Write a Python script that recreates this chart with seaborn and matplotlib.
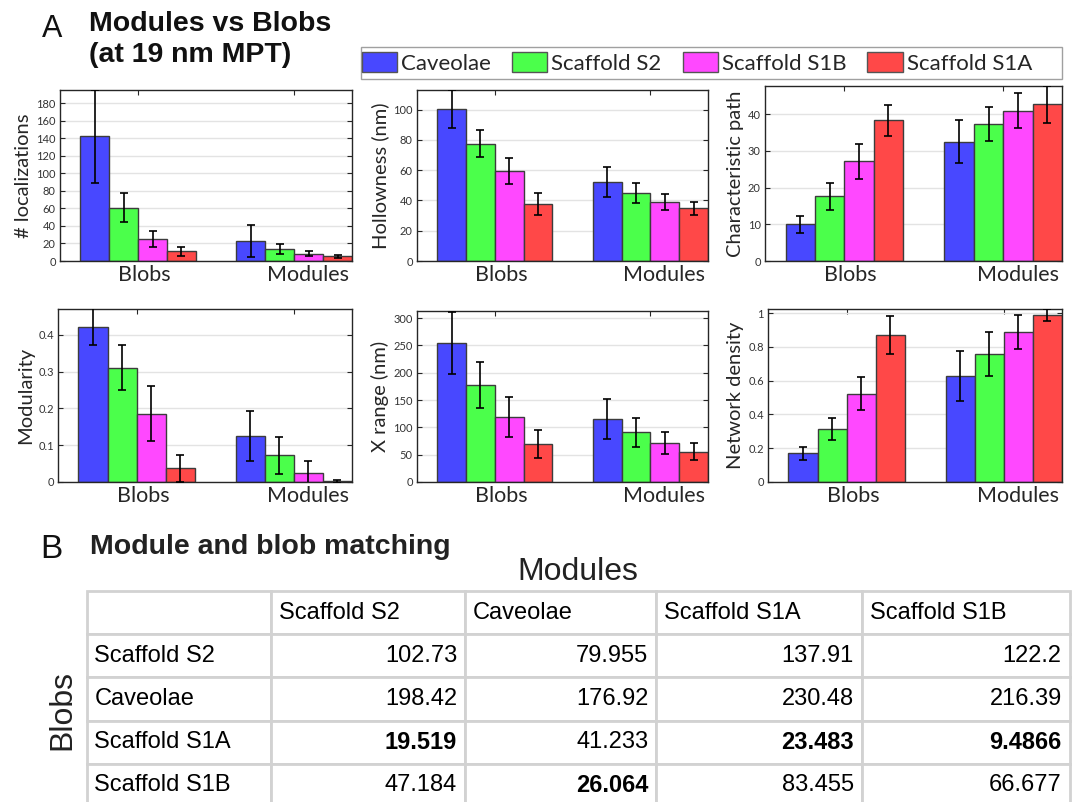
import numpy as np
import pandas as pd
import seaborn as sns
import matplotlib
matplotlib.use("Agg")
import matplotlib.pyplot as plt
import matplotlib.patches as mpatches
from matplotlib.container import BarContainer

sns.set_theme(style="white")
plt.rcParams["font.family"] = ["Lato", "DejaVu Sans"]

# ---------------------------------------------------------------- data
groups = ["Blobs", "Modules"]
proteins = ["Caveolae", "Scaffold S2", "Scaffold S1B", "Scaffold S1A"]
colors = ["#4848FF", "#4BFF4B", "#FF48FF", "#FF4848"]

loc_blobs = [142, 61, 25, 11]
loc_blobs_err = [53, 17, 9, 5.5]
loc_modules = [22.5, 13.5, 8.5, 5.5]
loc_modules_err = [18, 6, 3, 1.7]

hol_blobs = [100.5, 77.5, 59.5, 37.5]
hol_blobs_err = [12.5, 9, 8.5, 7.2]
hol_modules = [52, 45, 39, 35]
hol_modules_err = [10, 6.7, 5.3, 4.3]

cp_blobs = [10, 17.6, 27.2, 38.3]
cp_blobs_err = [2.3, 3.6, 4.8, 4.3]
cp_modules = [32.5, 37.3, 41, 42.7]
cp_modules_err = [5.9, 4.7, 4.7, 5.1]

mod_blobs = [0.422, 0.31, 0.186, 0.037]
mod_blobs_err = [0.051, 0.061, 0.074, 0.036]
mod_modules = [0.125, 0.073, 0.025, 0.002]
mod_modules_err = [0.069, 0.05, 0.032, 0.004]

xr_blobs = [254, 178, 119, 69]
xr_blobs_err = [57, 42, 37.5, 25.5]
xr_modules = [115, 91, 71, 55]
xr_modules_err = [37, 26.5, 20.5, 15.5]

nd_blobs = [0.17, 0.312, 0.522, 0.87]
nd_blobs_err = [0.04, 0.065, 0.098, 0.11]
nd_modules = [0.627, 0.757, 0.887, 0.987]
nd_modules_err = [0.146, 0.128, 0.102, 0.035]

# matching table: rows = blobs, columns = modules
table_rows = ["Scaffold S2", "Caveolae", "Scaffold S1A", "Scaffold S1B"]
table_cols = ["Scaffold S2", "Caveolae", "Scaffold S1A", "Scaffold S1B"]
match_s2 = [102.73, 198.42, 19.519, 47.184]
match_cav = [79.955, 176.92, 41.233, 26.064]
match_s1a = [137.91, 230.48, 23.483, 83.455]
match_s1b = [122.2, 216.39, 9.4866, 66.677]

# ---------------------------------------------------------------- figure
W, H = 1073, 802
fig = plt.figure(figsize=(W / 100, H / 100), dpi=100)


def px_axes(left, top, right, bottom):
    return fig.add_axes([left / W, 1 - bottom / H, (right - left) / W, (bottom - top) / H])


def panel(ax, blobs, blobs_err, modules, modules_err, ylabel, ylim, yticks, yticklabels):
    df = pd.DataFrame({
        "group": ["Blobs"] * 4 + ["Modules"] * 4,
        "protein": proteins * 2,
        "value": list(blobs) + list(modules),
    })
    sns.barplot(data=df, x="group", y="value", hue="protein", order=groups,
                hue_order=proteins, palette=colors, saturation=1, width=0.74,
                errorbar=None, edgecolor="#3c3c3c", linewidth=1.0, legend=False,
                ax=ax, zorder=2)
    bar_sets = [c for c in ax.containers if isinstance(c, BarContainer)]
    for i, cont in enumerate(bar_sets):
        xs = [p.get_x() + p.get_width() / 2 for p in cont.patches]
        ys = [p.get_height() for p in cont.patches]
        errs = [blobs_err[i], modules_err[i]]
        ax.errorbar(xs, ys, yerr=errs, fmt="none", ecolor="black",
                    elinewidth=1.2, capsize=2.6, capthick=1.2, zorder=3)
    ax.set_xlim(-0.5, 1.37)
    ax.set_ylim(*ylim)
    ax.set_yticks(yticks)
    ax.set_yticklabels(yticklabels, fontsize=8, color="#333333")
    # group labels sit a little right of the group centres; the tick marks
    # (top edge) stay on the centres as minor ticks
    ax.set_xticks([0.04, 1.09])
    ax.set_xticklabels(groups, fontsize=15.5, color="#262626")
    ax.set_xticks([0, 1], minor=True)
    ax.set_xlabel("")
    ax.set_ylabel(ylabel, fontsize=14.5, color="#262626", labelpad=3)
    ax.yaxis.grid(True, color="#e3e3e3", lw=1)
    ax.set_axisbelow(True)
    ax.tick_params(axis="y", direction="in", left=True, right=True,
                   length=3.5, width=0.8, color="#262626", pad=3)
    ax.tick_params(axis="x", which="major", length=0, pad=3)
    ax.tick_params(axis="x", which="minor", direction="in", bottom=True, top=True,
                   length=3.5, width=0.8, color="#262626")
    for s in ax.spines.values():
        s.set_color("#262626")
        s.set_linewidth(1.0)


ax1 = px_axes(60, 90, 352, 261)
panel(ax1, loc_blobs, loc_blobs_err, loc_modules, loc_modules_err,
      "# localizations", (0, 195), range(0, 181, 20), [str(v) for v in range(0, 181, 20)])

ax2 = px_axes(417, 90, 708, 261)
panel(ax2, hol_blobs, hol_blobs_err, hol_modules, hol_modules_err,
      "Hollowness (nm)", (0, 113), range(0, 101, 20), [str(v) for v in range(0, 101, 20)])

ax3 = px_axes(765, 86, 1062, 261)
panel(ax3, cp_blobs, cp_blobs_err, cp_modules, cp_modules_err,
      "Characteristic path", (0, 47.7), range(0, 41, 10), [str(v) for v in range(0, 41, 10)])

ax4 = px_axes(58, 309, 352, 482)
panel(ax4, mod_blobs, mod_blobs_err, mod_modules, mod_modules_err,
      "Modularity", (0, 0.47), [0, 0.1, 0.2, 0.3, 0.4], ["0", "0.1", "0.2", "0.3", "0.4"])

ax5 = px_axes(417, 311, 708, 482)
panel(ax5, xr_blobs, xr_blobs_err, xr_modules, xr_modules_err,
      "X range (nm)", (0, 313), range(0, 301, 50), [str(v) for v in range(0, 301, 50)])

ax6 = px_axes(768, 309, 1062, 482)
panel(ax6, nd_blobs, nd_blobs_err, nd_modules, nd_modules_err,
      "Network density", (0, 1.024), [0, 0.2, 0.4, 0.6, 0.8, 1.0],
      ["0", "0.2", "0.4", "0.6", "0.8", "1"])

# legend shared by all panels, inside a wider box
fig.patches.append(mpatches.Rectangle((361 / W, 1 - 79 / H), (1062 - 361) / W, 32 / H,
                                      transform=fig.transFigure, facecolor="white",
                                      edgecolor="#a0a0a0", linewidth=1.0))
handles = [mpatches.Patch(facecolor=c, edgecolor="#555555", linewidth=1) for c in colors]
leg = fig.legend(handles, proteins, loc="center left",
                 bbox_to_anchor=(362 / W, 1 - 63 / H), ncol=4, frameon=False,
                 fontsize=16, handlelength=1.58, handleheight=1.0,
                 handletextpad=0.18, columnspacing=0.95, borderpad=0.0,
                 borderaxespad=0)

# ---------------------------------------------------------------- titles
sans = ["Liberation Sans", "DejaVu Sans"]
fig.text(42 / W, 1 - 29 / H, "A", fontsize=22, family=sans, va="center", ha="left", color="#111111")
fig.text(89 / W, 1 - 24 / H, "Modules vs Blobs", fontsize=20.5, family=sans,
         weight="bold", va="center", ha="left", color="#111111")
fig.text(89 / W, 1 - 55 / H, "(at 19 nm MPT)", fontsize=20.5, family=sans,
         weight="bold", va="center", ha="left", color="#111111")

fig.text(40 / W, 1 - 549 / H, "B", fontsize=24, family=sans, va="center", ha="left", color="#111111")
fig.text(90 / W, 1 - 547 / H, "Module and blob matching", fontsize=20.5, family=sans,
         weight="bold", va="center", ha="left", color="#222222")
fig.text(578 / W, 1 - 572 / H, "Modules", fontsize=23, family=sans, va="center",
         ha="center", color="#222222")
fig.text(62 / W, 1 - 710 / H, "Blobs", fontsize=23, family=sans, va="center",
         ha="center", rotation=90, color="#222222")

# ---------------------------------------------------------------- table
tab_ax = px_axes(87, 591, 1070, 807)
tab_ax.axis("off")
columns = [match_s2, match_cav, match_s1a, match_s1b]
col_min = [min(c) for c in columns]
cell_text = []
for r, name in enumerate(table_rows):
    cell_text.append([name] + ["{:.5g}".format(c[r]) for c in columns])
col_w = np.array([184, 194, 191, 206, 208], dtype=float)
tbl = tab_ax.table(cellText=cell_text, colLabels=[""] + table_cols,
                   colWidths=list(col_w / col_w.sum()), cellLoc="right",
                   bbox=[0, 0, 1, 1])
tbl.auto_set_font_size(False)
tbl.set_fontsize(17)
for (r, c), cell in tbl.get_celld().items():
    cell.set_edgecolor("#d2d2d2")
    cell.set_linewidth(2)
    cell.PAD = 0.04
    cell.get_text().set_family(sans)
    cell.get_text().set_color("black")
    if r == 0 or c == 0:
        cell._loc = "left"
        cell.get_text().set_ha("left")
    else:
        cell._loc = "right"
        cell.get_text().set_ha("right")
        if columns[c - 1][r - 1] == col_min[c - 1]:
            cell.get_text().set_weight("bold")

fig.savefig("out.png", dpi=100)
